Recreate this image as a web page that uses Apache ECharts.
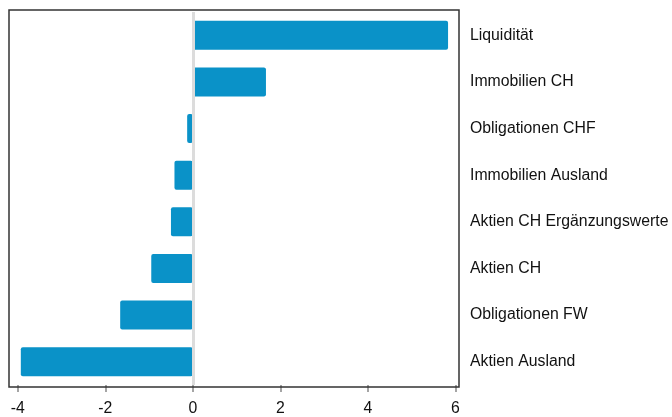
<!DOCTYPE html>
<html>
<head>
<meta charset="utf-8">
<script src="https://cdn.jsdelivr.net/npm/echarts@6/dist/echarts.min.js"></script>
<style>html,body{margin:0;padding:0;background:#fff}#c{width:672px;height:417px}</style>
</head>
<body>
<div id="c"></div>
<script>
var categories = ['Liquidität','Immobilien CH','Obligationen CHF','Immobilien Ausland','Aktien CH Ergänzungswerte','Aktien CH','Obligationen FW','Aktien Ausland'];
var values = [5.83, 1.67, -0.13, -0.42, -0.5, -0.95, -1.66, -3.93];
var xTicks = [-4, -2, 0, 2, 4, 6];

var FONT = 'Liberation Sans, Arial, sans-serif';
var chart = echarts.init(document.getElementById('c'));
chart.setOption({
  animation: false,
  textStyle: {fontFamily: FONT},
  grid: {left: 9, right: 213, top: 12, bottom: 31, show: false},
  graphic: [{type: 'rect', z: 100, silent: true,
    shape: {x: 9, y: 10, width: 450, height: 377},
    style: {fill: 'none', stroke: '#333', lineWidth: 1.5}}],
  xAxis: {
    type: 'value', min: -4.2, max: 6.08,
    axisLine: {show: false},
    splitLine: {show: false},
    axisTick: {show: true, length: 7, lineStyle: {color: '#888', width: 1.5}, customValues: xTicks},
    axisLabel: {customValues: xTicks, color: '#111', fontSize: 15.8, margin: 16, fontFamily: FONT}
  },
  yAxis: {
    type: 'category', data: categories, inverse: true, position: 'right',
    axisLine: {show: false}, axisTick: {show: false}, splitLine: {show: false},
    axisLabel: {color: '#111', fontSize: 15.8, margin: 11, padding: [3, 0, 0, 0], fontFamily: FONT}
  },
  series: [
    {type: 'line', data: [], z: 1, silent: true,
     markLine: {silent: true, symbol: 'none', label: {show: false},
       lineStyle: {color: '#dcdcdc', width: 3, type: 'solid'}, data: [{xAxis: 0}]}},
    {type: 'bar', data: values, z: 2, barWidth: '62%',
     itemStyle: {color: '#0a92c8', borderRadius: 2}}
  ]
});
</script>
</body>
</html>
